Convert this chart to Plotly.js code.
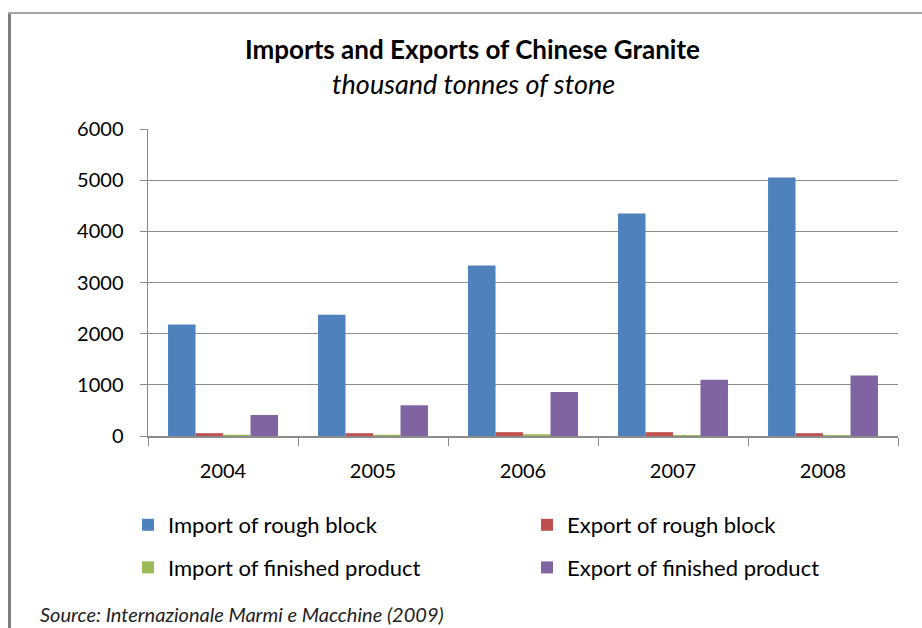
<!DOCTYPE html>
<html><head><meta charset="utf-8">
<script src="https://cdn.plot.ly/plotly-3.0.1.min.js"></script>
<style>html,body{margin:0;padding:0;background:#fff}#chart{width:922px;height:628px}</style>
</head><body><div id="chart"></div>
<script>
var years = ['2004','2005','2006','2007','2008'];
var importRough = [2180, 2370, 3330, 4350, 5050];
var exportRough = [55, 55, 75, 75, 55];
var importFinished = [25, 25, 35, 20, 20];
var exportFinished = [410, 600, 860, 1100, 1180];
var seriesNames = ['Import of rough block','Export of rough block','Import of finished product','Export of finished product'];
var seriesColors = ['#4f81bd','#c0504d','#9bbb59','#8064a2'];
var seriesValues = [importRough, exportRough, importFinished, exportFinished];
var seriesLegend = ['legend','legend2','legend','legend2'];

var font = 'Lato, "Open Sans", sans-serif';
var traces = seriesValues.map(function(v,i){
  return {type:'bar', x:years, y:v, name:seriesNames[i], marker:{color:seriesColors[i]},
    legend:seriesLegend[i], legendgroup:'g'+i};
});
var L=148, R=24, T=129, B=192, W=922, H=628;
var pw=W-L-R, ph=H-T-B;
function px(x){return (x-L)/pw;}
function py(y){return (H-B-y)/ph;}
var legFont = {size:22, family:font, color:'#000'};
var layout = {
  width:W, height:H, margin:{l:L,r:R,t:T,b:B},
  paper_bgcolor:'#fff', plot_bgcolor:'#fff',
  barmode:'group', bargap:0.267, bargroupgap:0,
  font:{family:font, size:20, color:'#000'},
  showlegend:true,
  legend:{orientation:'v', x:px(128), xanchor:'left', y:py(504), yanchor:'top',
    font:legFont, itemwidth:30, tracegroupgap:11, bgcolor:'rgba(0,0,0,0)'},
  legend2:{orientation:'v', x:px(527), xanchor:'left', y:py(504), yanchor:'top',
    font:legFont, itemwidth:30, tracegroupgap:11, bgcolor:'rgba(0,0,0,0)'},
  xaxis:{type:'category', showline:true, linecolor:'#8c8c8c', linewidth:1.5, ticks:'outside', tickson:'boundaries',
    ticklen:8, tickcolor:'#8c8c8c', tickfont:{size:20}, ticklabelstandoff:16, showgrid:false, fixedrange:true},
  yaxis:{range:[0,6000], dtick:1000, showline:true, linecolor:'#8c8c8c', linewidth:1.5, ticks:'outside', ticklen:7,
    tickcolor:'#8c8c8c', showgrid:true, gridcolor:'#8c8c8c', gridwidth:1.2, tickfont:{size:20}, ticklabelstandoff:12, zeroline:false},
  annotations:[
    {text:'<b>Imports and Exports of Chinese Granite</b>', xref:'paper', yref:'paper', x:px(472), y:py(49), xanchor:'center', yanchor:'middle', showarrow:false, font:{size:26, family:font}},
    {text:'<i>thousand tonnes of stone</i>', xref:'paper', yref:'paper', x:px(473), y:py(84), xanchor:'center', yanchor:'middle', showarrow:false, font:{size:27, family:font}},
    {text:'<i>Source: Internazionale Marmi e Macchine (2009)</i>', xref:'paper', yref:'paper', x:px(38), y:py(614), xanchor:'left', yanchor:'middle', showarrow:false, font:{size:20, family:font, color:'#222'}}
  ],
  shapes:[
    {type:'line', xref:'paper', yref:'paper', x0:px(9.5), x1:px(9.5), y0:py(12), y1:py(640), line:{color:'#7f7f7f', width:3}},
    {type:'line', xref:'paper', yref:'paper', x0:px(8), x1:px(940), y0:py(13), y1:py(13), line:{color:'#a6a6a6', width:2}}
  ]
};
Plotly.newPlot('chart', traces, layout, {displayModeBar:false, staticPlot:true});
</script></body></html>
